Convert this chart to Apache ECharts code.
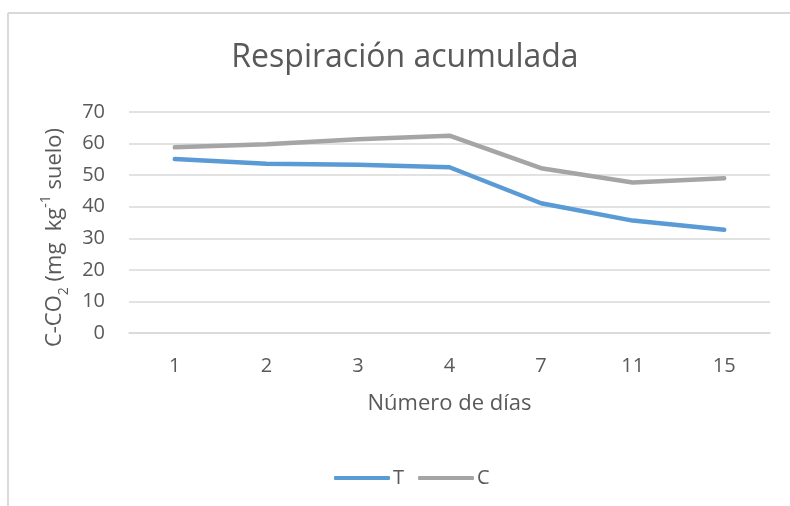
<!DOCTYPE html>
<html>
<head>
    <meta charset="utf-8">
    <title>Respiración acumulada</title>
    <script src="https://cdn.jsdelivr.net/npm/echarts@6/dist/echarts.min.js"></script>
    <style>
        html, body { margin: 0; padding: 0; background: #fff; }
        #chart { width: 790px; height: 506px; }
    </style>
</head>
<body>
<div id="chart"></div>
<script type="text/javascript">
    // ---- datos ----
    var dias = ['1', '2', '3', '4', '7', '11', '15'];
    var serieT = [55.1, 53.6, 53.3, 52.5, 41.1, 35.6, 32.7];
    var serieC = [58.8, 59.8, 61.4, 62.5, 52.2, 47.7, 49.0];
    var nombres = ['T', 'C'];
    var colores = ['#5b9bd5', '#a5a5a5'];

    var fuente = '"Open Sans", "Noto Sans", sans-serif';
    var gris = '#595959';

    var myChart = echarts.init(document.getElementById('chart'));
    myChart.setOption({
        animation: false,
        title: {
            text: 'Respiración acumulada',
            left: 400,
            textAlign: 'center',
            top: 37,
            textStyle: { fontFamily: fuente, fontSize: 32, fontWeight: 'normal', color: gris }
        },
        // borde del area del grafico (solo arriba e izquierda)
        graphic: [
            { type: 'line', shape: { x1: 8, y1: 13, x2: 790, y2: 13 }, style: { stroke: '#d9d9d9', lineWidth: 2 } },
            { type: 'line', shape: { x1: 8, y1: 13, x2: 8, y2: 506 }, style: { stroke: '#d9d9d9', lineWidth: 2 } }
        ],
        legend: {
            data: nombres,
            left: 329,
            top: 463,
            icon: 'roundRect',
            itemWidth: 56,
            itemHeight: 4,
            itemGap: 14,
            textStyle: { fontFamily: fuente, fontSize: 20, color: gris, padding: [0, 0, 0, -2] }
        },
        grid: { left: 129, right: 20, top: 112, bottom: 173 },
        xAxis: {
            type: 'category',
            data: dias,
            boundaryGap: true,
            axisLine: { lineStyle: { color: '#d9d9d9', width: 1.5 } },
            axisTick: { show: false },
            axisLabel: { fontFamily: fuente, fontSize: 20, color: gris, margin: 23 },
            name: 'Número de días',
            nameLocation: 'middle',
            nameGap: 60,
            nameTextStyle: { fontFamily: fuente, fontSize: 22, color: gris }
        },
        yAxis: {
            type: 'value',
            min: 0,
            max: 70,
            interval: 10,
            axisLine: { show: false },
            axisTick: { show: false },
            splitLine: { lineStyle: { color: '#d9d9d9', width: 1.5 } },
            axisLabel: { fontFamily: fuente, fontSize: 20, color: gris, margin: 24 },
            name: '{a|C-CO}{s|2}{a| (mg  kg}{p|-1}{a| suelo)}',
            nameLocation: 'middle',
            nameGap: 46,
            nameRotate: 90,
            nameTextStyle: {
                padding: [0, 30, 0, 0],
                rich: {
                    a: { fontFamily: fuente, fontSize: 22, color: gris, lineHeight: 32, verticalAlign: 'middle' },
                    s: { fontFamily: fuente, fontSize: 14, color: gris, lineHeight: 32, verticalAlign: 'bottom' },
                    p: { fontFamily: fuente, fontSize: 14, color: gris, lineHeight: 32, verticalAlign: 'top' }
                }
            }
        },
        series: [
            {
                name: nombres[0],
                type: 'line',
                data: serieT,
                showSymbol: false,
                symbol: 'none',
                color: colores[0],
                lineStyle: { width: 4.5, color: colores[0], cap: 'round' }
            },
            {
                name: nombres[1],
                type: 'line',
                data: serieC,
                showSymbol: false,
                symbol: 'none',
                color: colores[1],
                lineStyle: { width: 4.5, color: colores[1], cap: 'round' }
            }
        ]
    });
</script>
</body>
</html>
